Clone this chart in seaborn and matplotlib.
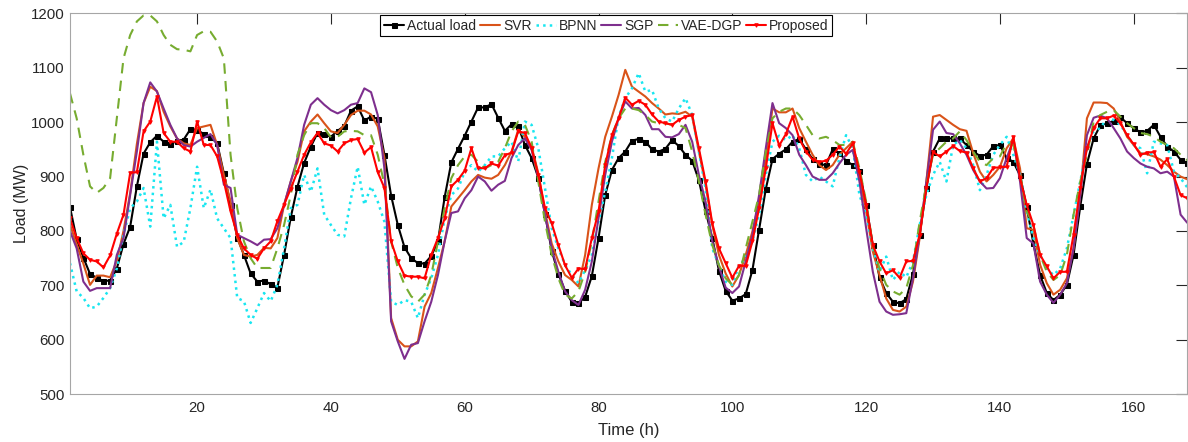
import numpy as np
import pandas as pd
import matplotlib
matplotlib.use("Agg")
import matplotlib.pyplot as plt
import seaborn as sns

# hourly load values (MW)
hours = np.arange(1, 169)

actual = [844, 785, 751, 721, 714, 708, 709, 731, 776, 808,
          882, 942, 963, 975, 964, 960, 965, 968, 987, 986,
          978, 973, 961, 906, 848, 788, 756, 722, 707, 709,
          702, 696, 756, 825, 881, 925, 955, 980, 978, 973,
          984, 993, 1021, 1029, 1003, 1010, 1006, 940, 865, 811,
          770, 750, 741, 740, 754, 781, 862, 926, 951, 975,
          1001, 1027, 1027, 1033, 1008, 984, 996, 992, 958, 934,
          898, 831, 764, 721, 690, 670, 667, 679, 717, 787,
          866, 912, 934, 946, 966, 969, 964, 950, 946, 951,
          967, 956, 940, 929, 893, 837, 787, 727, 690, 672,
          676, 684, 728, 802, 877, 932, 942, 950, 964, 969,
          950, 932, 923, 921, 950, 943, 929, 921, 911, 848,
          774, 715, 686, 670, 667, 675, 721, 793, 879, 946,
          970, 970, 970, 970, 958, 946, 938, 940, 956, 958,
          934, 927, 902, 844, 777, 719, 686, 673, 683, 701,
          756, 845, 923, 970, 994, 998, 1002, 1009, 998, 989,
          981, 984, 995, 973, 955, 946, 931, 925]

svr = [812, 775, 740, 701, 718, 718, 715, 745, 800, 870,
       960, 1035, 1065, 1057, 1019, 992, 970, 961, 958, 989,
       992, 995, 958, 903, 854, 787, 756, 753, 756, 769,
       768, 787, 848, 891, 927, 983, 1001, 1014, 998, 983,
       980, 995, 1013, 1021, 1021, 1014, 992, 934, 640, 600,
       588, 588, 597, 661, 686, 732, 781, 845, 860, 875,
       891, 903, 898, 896, 903, 921, 946, 986, 973, 955,
       906, 836, 777, 744, 719, 710, 698, 756, 848, 915,
       973, 1010, 1050, 1096, 1065, 1056, 1047, 1035, 1025, 1014,
       1016, 1015, 1019, 1010, 946, 885, 811, 756, 722, 698,
       719, 756, 799, 854, 934, 1025, 1018, 1018, 1025, 989,
       964, 940, 921, 912, 921, 940, 952, 964, 897, 836,
       762, 719, 676, 655, 652, 661, 707, 787, 891, 1010,
       1013, 1004, 995, 987, 984, 943, 909, 891, 903, 918,
       952, 970, 915, 805, 802, 738, 704, 683, 692, 713,
       768, 866, 1007, 1036, 1036, 1035, 1025, 1001, 973, 958,
       943, 941, 937, 931, 921, 909, 900, 895]

bpnn = [741, 689, 677, 658, 661, 677, 695, 731, 793, 842,
        854, 879, 808, 964, 823, 848, 771, 780, 842, 918,
        842, 876, 823, 805, 787, 677, 671, 631, 658, 686,
        671, 701, 768, 842, 848, 903, 872, 915, 830, 811,
        793, 790, 860, 918, 848, 882, 854, 817, 670, 664,
        673, 670, 640, 683, 713, 756, 823, 866, 878, 909,
        921, 909, 921, 937, 937, 952, 964, 928, 1001, 995,
        952, 878, 805, 768, 738, 719, 704, 728, 756, 817,
        872, 934, 1010, 1044, 1062, 1090, 1056, 1059, 1025, 1007,
        1001, 1025, 1044, 1013, 946, 878, 768, 737, 707, 701,
        737, 750, 781, 830, 903, 964, 975, 967, 976, 952,
        903, 891, 900, 891, 882, 934, 976, 952, 866, 830,
        768, 725, 753, 710, 725, 715, 744, 811, 866, 903,
        927, 891, 958, 967, 952, 921, 875, 903, 940, 958,
        973, 940, 903, 836, 787, 756, 731, 719, 731, 768,
        830, 891, 952, 983, 989, 1007, 1004, 995, 976, 958,
        952, 906, 964, 961, 958, 909, 897, 880]

sgp = [800, 768, 707, 690, 695, 695, 695, 756, 787, 866,
       946, 1035, 1073, 1056, 1025, 995, 970, 958, 955, 964,
       971, 978, 958, 885, 879, 793, 787, 781, 774, 784,
       785, 805, 848, 891, 934, 995, 1032, 1044, 1032, 1022,
       1016, 1022, 1032, 1035, 1062, 1055, 1013, 915, 634, 597,
       565, 591, 594, 634, 670, 719, 781, 833, 836, 860,
       875, 900, 891, 874, 885, 892, 934, 958, 970, 949,
       897, 830, 768, 725, 689, 673, 664, 692, 744, 823,
       903, 964, 1007, 1038, 1025, 1026, 1013, 987, 987, 973,
       972, 978, 995, 964, 903, 854, 781, 735, 696, 686,
       698, 744, 793, 866, 952, 1035, 998, 989, 976, 940,
       921, 900, 894, 894, 906, 924, 940, 949, 891, 805,
       725, 670, 652, 646, 647, 649, 713, 793, 891, 986,
       1001, 980, 978, 961, 940, 912, 891, 878, 879, 897,
       934, 967, 891, 787, 777, 707, 683, 668, 683, 704,
       768, 866, 976, 1008, 1012, 1007, 989, 970, 946, 934,
       924, 918, 915, 906, 909, 900, 830, 815]

vae_dgp = [1053, 1007, 940, 882, 870, 879, 897, 1007, 1117, 1160,
           1185, 1196, 1196, 1185, 1160, 1142, 1134, 1133, 1130, 1160,
           1167, 1166, 1148, 1117, 940, 842, 781, 750, 732, 732,
           732, 768, 811, 866, 940, 976, 998, 998, 989, 972,
           973, 983, 984, 983, 976, 976, 940, 885, 781, 732,
           701, 680, 670, 683, 719, 781, 842, 897, 921, 937,
           940, 927, 915, 921, 927, 952, 983, 1001, 995, 964,
           891, 817, 756, 713, 683, 676, 689, 725, 781, 854,
           927, 976, 1007, 1025, 1025, 1022, 1013, 1001, 998, 998,
           995, 995, 989, 946, 891, 830, 774, 737, 713, 701,
           719, 768, 817, 866, 946, 1007, 1019, 1025, 1025, 1013,
           995, 976, 970, 973, 967, 958, 958, 964, 915, 854,
           774, 731, 701, 689, 683, 695, 737, 817, 885, 940,
           952, 964, 970, 983, 967, 946, 927, 921, 934, 937,
           961, 958, 903, 836, 811, 756, 725, 710, 719, 756,
           830, 891, 940, 1001, 1013, 1019, 1022, 1010, 998, 989,
           980, 978, 973, 964, 958, 952, 940, 930]

proposed = [823, 787, 759, 747, 744, 733, 755, 795, 830, 907,
            908, 983, 1001, 1047, 980, 964, 964, 952, 946, 1001,
            958, 958, 937, 891, 836, 793, 768, 756, 749, 768,
            781, 818, 848, 878, 909, 940, 963, 980, 961, 957,
            946, 961, 967, 969, 944, 954, 908, 879, 781, 744,
            718, 716, 716, 713, 756, 787, 823, 882, 894, 911,
            952, 916, 915, 924, 920, 939, 944, 983, 980, 952,
            903, 842, 814, 774, 737, 714, 731, 730, 787, 836,
            921, 976, 1007, 1045, 1032, 1039, 1032, 1014, 1001, 998,
            995, 1004, 1010, 1013, 952, 891, 814, 768, 741, 714,
            736, 736, 781, 842, 915, 998, 957, 978, 1010, 970,
            946, 931, 927, 929, 940, 955, 942, 961, 909, 848,
            774, 744, 722, 728, 714, 744, 745, 793, 879, 945,
            937, 946, 956, 947, 944, 915, 891, 897, 916, 917,
            918, 973, 897, 848, 811, 756, 735, 713, 725, 725,
            793, 879, 952, 989, 1007, 1007, 1012, 998, 976, 959,
            940, 944, 945, 918, 932, 900, 866, 860]

series_names = ["Actual load", "SVR", "BPNN", "SGP", "VAE-DGP", "Proposed"]

df = pd.DataFrame({"hour": hours, "Actual load": actual, "SVR": svr,
                   "BPNN": bpnn, "SGP": sgp, "VAE-DGP": vae_dgp,
                   "Proposed": proposed})

sns.set_style("white")
plt.rcParams["font.family"] = ["Liberation Sans", "DejaVu Sans"]

styles = {
    "Actual load": dict(color="black", linestyle="-", marker="s", markersize=3.6,
                        markeredgecolor="black", markerfacecolor="black"),
    "SVR": dict(color="#D95319", linestyle="-"),
    "BPNN": dict(color="#19E6F0", linestyle=":", linewidth=1.8),
    "SGP": dict(color="#7E2F8E", linestyle="-"),
    "VAE-DGP": dict(color="#77AC30", linestyle=(0, (5, 3.5))),
    "Proposed": dict(color="#FF0000", linestyle="-", marker="v", markersize=2.5,
                     markeredgecolor="#FF0000", markerfacecolor="#FF0000"),
}

fig = plt.figure(figsize=(11.88, 4.42), dpi=100)
ax = fig.add_axes([0.0589, 0.108, 0.9405, 0.862])

for name in series_names:
    kw = dict(linewidth=1.5)
    kw.update(styles[name])
    sns.lineplot(data=df, x="hour", y=name, ax=ax, label=name, **kw)

ax.set_xlim(1, 168)
ax.set_ylim(500, 1200)
ax.set_xticks(range(20, 161, 20))
ax.set_yticks(range(500, 1201, 100))
ax.set_xlabel("Time (h)", fontsize=12, color="#262626")
ax.set_ylabel("Load (MW)", fontsize=11.5, color="#262626")
ax.xaxis.set_label_coords(0.5, -0.075)
ax.yaxis.set_label_coords(-0.037, 0.5)

ax.tick_params(direction="in", top=True, right=True, length=8, width=0.8,
               labelsize=10.8, labelcolor="#262626", color="#262626")
ax.tick_params(axis="x", pad=5)
ax.tick_params(axis="y", pad=4)
for sp in ax.spines.values():
    sp.set_color("#a6a6a6")
    sp.set_linewidth(0.8)

leg = ax.legend(loc="upper center", bbox_to_anchor=(0.48, 0.995), ncol=6,
                fontsize=10, frameon=True, fancybox=False, edgecolor="black",
                handlelength=1.45, handletextpad=0.2, columnspacing=0.3,
                borderpad=0.25, borderaxespad=0.0)
leg.get_frame().set_linewidth(0.8)
leg.get_frame().set_alpha(1)

fig.savefig("out.png", dpi=100)
